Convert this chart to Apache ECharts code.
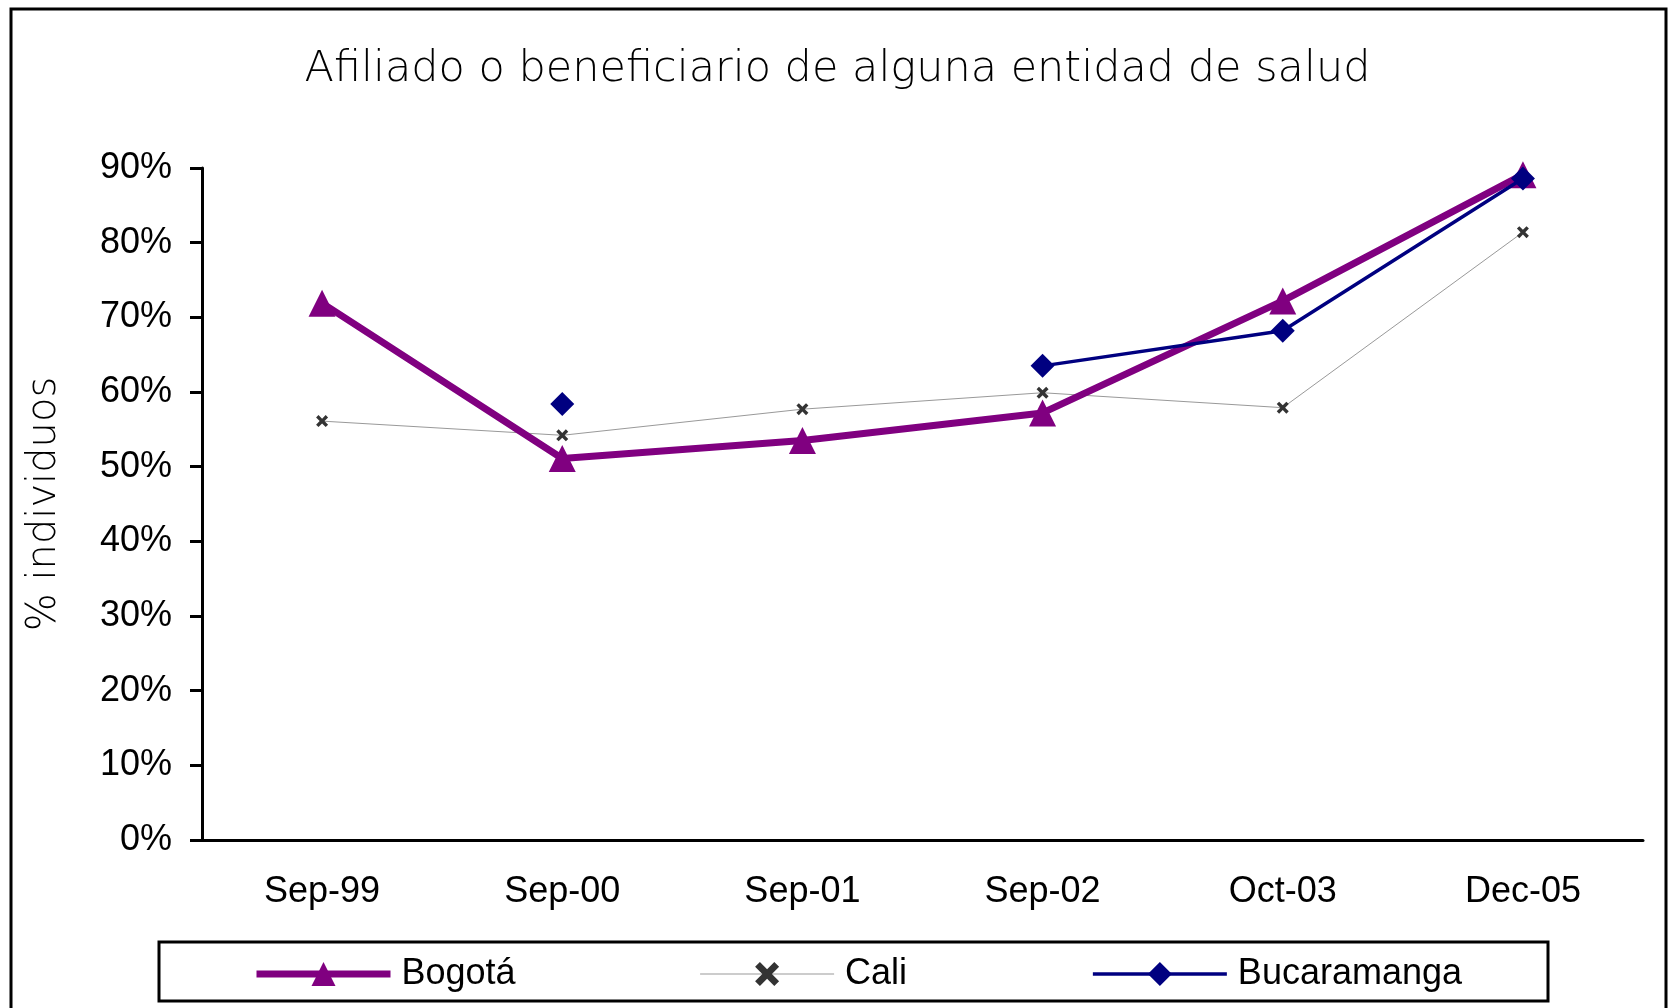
<!DOCTYPE html>
<html>
<head>
<meta charset="utf-8">
<script src="https://cdn.jsdelivr.net/npm/echarts@6/dist/echarts.min.js"></script>
<style>
html,body{margin:0;padding:0;background:#fff;}
#chart{width:1675px;height:1008px;}
</style>
</head>
<body>
<div id="chart"></div>
<script>
const categories = ['Sep-99','Sep-00','Sep-01','Sep-02','Oct-03','Dec-05'];
const bogota = [0.719, 0.511, 0.535, 0.572, 0.722, 0.891];
const cali = [0.561, 0.542, 0.577, 0.599, 0.579, 0.814];
const bucaramanga = [null, 0.584, null, 0.635, 0.682, 0.886];
const yTicks = [0, 0.1, 0.2, 0.3, 0.4, 0.5, 0.6, 0.7, 0.8, 0.9];

const FONT = '"Liberation Sans", Arial, sans-serif';
const THIN = '"DejaVu Sans", sans-serif';
const X_SYMBOL = 'path://M0,2 L2,0 L5,3 L8,0 L10,2 L7,5 L10,8 L8,10 L5,7 L2,10 L0,8 L3,5 Z';

const chart = echarts.init(document.getElementById('chart'), null, {renderer: 'canvas'});
chart.setOption({
  backgroundColor: '#fff',
  animation: false,
  title: {
    text: 'Afiliado o beneficiario de alguna entidad de salud',
    left: 'center',
    top: 43,
    textStyle: {fontFamily: THIN, fontSize: 43, fontWeight: 300, color: '#000'}
  },
  graphic: [
    {type: 'rect', shape: {x: 11, y: 9, width: 1655, height: 1010},
     style: {fill: 'none', stroke: '#000', lineWidth: 3}, silent: true, z: 0},
    {type: 'rect', shape: {x: 159, y: 942, width: 1389, height: 59},
     style: {fill: 'none', stroke: '#000', lineWidth: 3}, silent: true, z: 0}
  ],
  legend: {
    left: 248,
    top: 951,
    itemWidth: 134,
    itemHeight: 30,
    itemGap: 184,
    textStyle: {fontFamily: FONT, fontSize: 36, color: '#000', padding: [0, 0, 0, 6]},
    data: [
      {name: 'Bogotá', lineStyle: {width: 7, color: '#800080'}},
      {name: 'Cali', lineStyle: {width: 1, color: '#999'}},
      {name: 'Bucaramanga', lineStyle: {width: 3.5, color: '#000080'}}
    ]
  },
  grid: {left: 202, right: 32, top: 168, bottom: 168, containLabel: false, outerBoundsMode: 'none'},
  xAxis: {
    type: 'category',
    data: categories,
    boundaryGap: true,
    axisLine: {lineStyle: {color: '#000', width: 3}},
    axisTick: {length: 12, lineStyle: {color: '#000', width: 2}},
    axisLabel: {fontFamily: FONT, fontSize: 36, color: '#000', margin: 34}
  },
  yAxis: {
    type: 'value',
    min: yTicks[0],
    max: yTicks[yTicks.length - 1],
    interval: 0.1,
    name: '% individuos',
    nameLocation: 'middle',
    nameGap: 137,
    nameTextStyle: {fontFamily: THIN, fontSize: 40, fontWeight: 300, color: '#000'},
    splitLine: {show: false},
    axisLine: {show: true, lineStyle: {color: '#000', width: 3}},
    axisTick: {show: true, length: 12, lineStyle: {color: '#000', width: 3}},
    axisLabel: {fontFamily: FONT, fontSize: 36, color: '#000', margin: 30,
      formatter: v => Math.round(v * 100) + '%'}
  },
  series: [
    {
      name: 'Bogotá', type: 'line', data: bogota,
      symbol: 'triangle', symbolSize: 27,
      lineStyle: {color: '#800080', width: 7},
      itemStyle: {color: '#800080'},
      z: 3
    },
    {
      name: 'Cali', type: 'line', data: cali,
      symbol: X_SYMBOL, symbolSize: 12,
      lineStyle: {color: '#999', width: 1},
      itemStyle: {color: '#333'},
      z: 2
    },
    {
      name: 'Bucaramanga', type: 'line', data: bucaramanga,
      symbol: 'diamond', symbolSize: 24,
      connectNulls: false,
      lineStyle: {color: '#000080', width: 3.5},
      itemStyle: {color: '#000080'},
      z: 4
    }
  ]
});
</script>
</body>
</html>
